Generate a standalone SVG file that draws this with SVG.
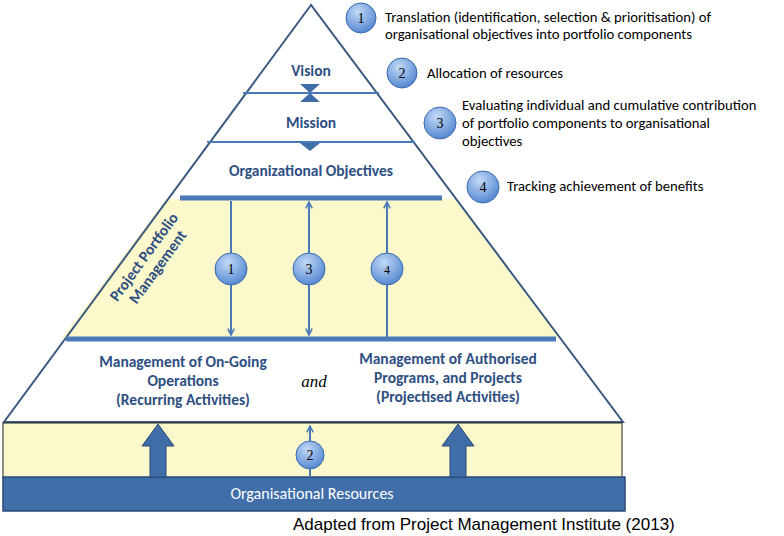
<svg xmlns="http://www.w3.org/2000/svg" width="784" height="536" viewBox="0 0 784 536">
<defs>
<radialGradient id="g" cx="0.4" cy="0.3" r="0.75"><stop offset="0" stop-color="#c3d9f7"/><stop offset="1" stop-color="#4f84cf"/></radialGradient>
<marker id="ah" viewBox="0 0 10 10" refX="9" refY="5" markerWidth="4" markerHeight="4" orient="auto-start-reverse"><path d="M1,1 L9,5 L1,9" fill="none" stroke="#4a7ab8" stroke-width="2"/></marker>
<style>
.t{font-family:Calibri,Carlito,"Liberation Sans",sans-serif;fill:#2e4f82;font-weight:bold;font-size:15.5px;text-anchor:middle}
.l{font-family:Calibri,Carlito,"Liberation Sans",sans-serif;fill:#000;font-size:14.7px}
.n{font-family:"Liberation Serif",serif;font-size:14px;text-anchor:middle;fill:#000}
.c{fill:url(#g);stroke:#3a6aae;stroke-width:1}
.ln{stroke:#4a7ab8;stroke-width:2;fill:none}
.bl{stroke:#4a7ab8;stroke-width:5}
</style>
</defs>
<rect width="784" height="536" fill="#fff"/>
<g id="pyramid">
<polygon points="166,199 456,199 560,338 62,338" fill="#fbf8cc"/>
<polygon points="311,5 4,422 623,422" fill="none" stroke="#3c5a80" stroke-width="2"/>
<line x1="243" y1="93" x2="379" y2="93" class="ln" stroke-width="2.5"/>
<line x1="207" y1="142" x2="415" y2="142" class="ln" stroke-width="2.5"/>
<line x1="180" y1="198" x2="442" y2="198" class="bl"/>
<line x1="66" y1="339" x2="556" y2="339" class="bl"/>
<polygon points="300,84 320,84 300,102 320,102" fill="#3f6ea8"/>
<polygon points="300,143 320,143 310,151" fill="#3f6ea8"/>
</g>
<g id="band">
<rect x="3" y="423" width="619" height="55" fill="#fbf8cc" stroke="#222" stroke-width="1"/>
</g>
<g id="resources">
<rect x="3" y="477" width="622" height="34" fill="#3f6ea8" stroke="#2a4a78" stroke-width="1.5"/>
<text x="312" y="499" class="t" style="fill:#fff;font-weight:normal;font-size:16px">Organisational Resources</text>
</g>
<g id="labels">
<text x="311" y="76" class="t">Vision</text>
<text x="311" y="128" class="t">Mission</text>
<text x="311" y="176" class="t">Organizational Objectives</text>
<text class="t" transform="translate(148,260) rotate(-54)"><tspan x="0" y="0">Project Portfolio</tspan><tspan x="0" y="17">Management</tspan></text>
<text class="t" x="183" y="367">Management of On-Going</text>
<text class="t" x="183" y="386">Operations</text>
<text class="t" x="183" y="405">(Recurring  Activities)</text>
<text x="314" y="387" style="font-family:'Liberation Serif',serif;font-style:italic;font-size:17px" text-anchor="middle">and</text>
<text class="t" x="448" y="364">Management of Authorised</text>
<text class="t" x="448" y="383">Programs, and Projects</text>
<text class="t" x="448" y="402">(Projectised Activities)</text>
</g>
<g id="connectors">
<line x1="231" y1="201" x2="231" y2="335" class="ln" marker-end="url(#ah)"/>
<line x1="309" y1="202" x2="309" y2="335" class="ln" marker-start="url(#ah)" marker-end="url(#ah)"/>
<line x1="387" y1="337" x2="387" y2="202" class="ln" marker-end="url(#ah)"/>
<line x1="310" y1="477" x2="310" y2="426" class="ln" stroke-width="1.5" marker-end="url(#ah)"/>
<polygon points="150,477 166,477 166,446 174,446 158,424 142,446 150,446" fill="#3f6ea8" stroke="#2a4a78"/>
<polygon points="450,477 466,477 466,446 474,446 458,424 442,446 450,446" fill="#3f6ea8" stroke="#2a4a78"/>
</g>
<g id="c1"><circle cx="231" cy="269" r="16" class="c"/><text x="231" y="274" class="n">1</text></g>
<g id="c3"><circle cx="309" cy="269" r="16" class="c"/><text x="309" y="274" class="n">3</text></g>
<g id="c4"><circle cx="387" cy="269" r="16" class="c"/><text x="387" y="274" class="n" style="font-size:12px">4</text></g>
<g id="c2"><circle cx="310" cy="455" r="14" class="c"/><text x="310" y="460" class="n">2</text></g>
<g id="legend">
<circle cx="361" cy="18" r="15" class="c"/><text x="361" y="23" class="n">1</text>
<text x="385" y="22" class="l">Translation (identification, selection &amp; prioritisation) of</text>
<text x="385" y="39" class="l">organisational objectives into portfolio components</text>
<circle cx="402" cy="73" r="15" class="c"/><text x="402" y="78" class="n">2</text>
<text x="427" y="78" class="l">Allocation of resources</text>
<circle cx="440" cy="123" r="16" class="c"/><text x="440" y="128" class="n">3</text>
<text x="462" y="110" class="l">Evaluating individual and cumulative  contribution</text>
<text x="462" y="128" class="l">of portfolio components to organisational</text>
<text x="462" y="146" class="l">objectives</text>
<circle cx="483" cy="187" r="16" class="c"/><text x="483" y="192" class="n">4</text>
<text x="507" y="191" class="l">Tracking achievement of benefits</text>
</g>
<text x="293" y="530" style="font-family:'Liberation Sans',sans-serif;font-size:17px">Adapted from Project Management Institute (2013)</text>
</svg>
